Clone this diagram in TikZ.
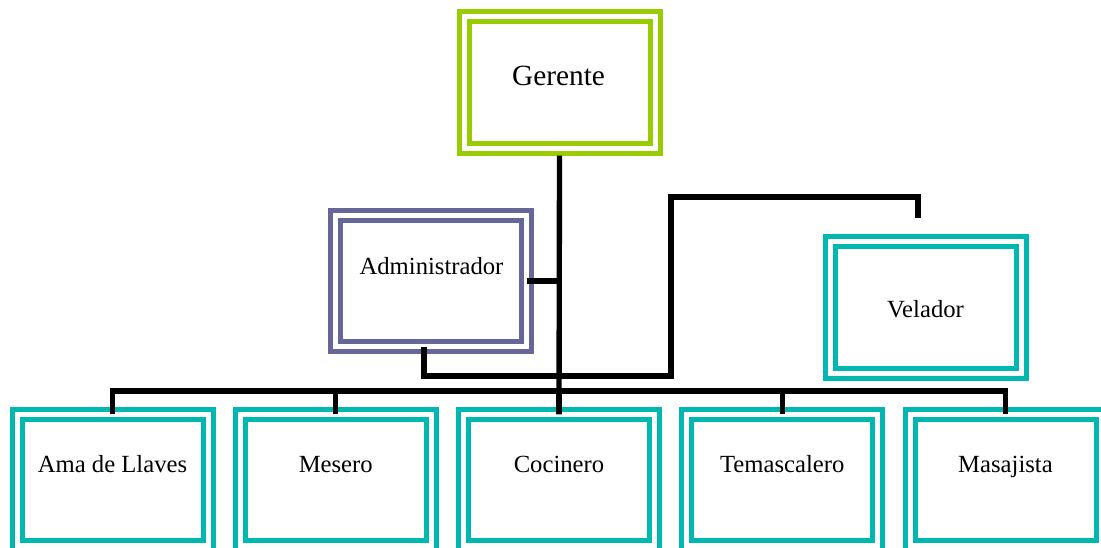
\documentclass[tikz,border=0pt]{standalone}
\usepackage{fontspec}
\setmainfont{Liberation Serif}
\usepackage{xcolor}
\usepackage{tikz}
\usetikzlibrary{positioning}
\definecolor{limegreen}{RGB}{153, 204, 0}
\definecolor{slatepurple}{RGB}{102, 102, 153}
\definecolor{tealbox}{RGB}{0, 183, 178}

\begin{document}
\begin{tikzpicture}[x=0.75pt, y=-0.75pt,
    box/.style={draw=#1, line width=3.75pt, double=white, double distance=3.75pt,
        minimum width=143.25pt, minimum height=98.6pt, inner sep=0pt, outer sep=0pt},
    lbl/.style={anchor=base, font=\fontsize{18.5}{22}\selectfont},
    link/.style={line width=4pt, line join=miter}]
    \clip (0,0) rectangle (1101,548);

    % Top of the chart
    \node[box=limegreen] (ger) at (559.5,82.5) {};
    \node[lbl, font=\fontsize{22}{26}\selectfont] (gertxt) at (558.5,86) {Gerente};

    % Second level
    \node[box=slatepurple] (adm) at (431,281) {};
    \node[lbl] (admtxt) at (431.5,275) {Administrador};

    \node[box=tealbox] (vel) at (925.5,307.5) {};
    \node[lbl] (veltxt) at (925.5,318) {Velador};

    % Staff row
    \foreach \name/\txt [count=\i] in {ama/Ama de Llaves, mes/Mesero, coc/Cocinero, tem/Temascalero, mas/Masajista} {
        \node[box=tealbox] (\name) at ({112.5+223.25*(\i-1)},480) {};
        \node[lbl] (\name txt) at ({112.5+223.25*(\i-1)},473) {\txt};
    }

    % Connectors
    \coordinate (busy) at (0,391);
    \coordinate (bend) at (671,376);
    \coordinate (velstub) at (918,218);

    \draw[link] ([yshift=-5.625pt]ger.south) -- (coc.north);
    \draw[link] (adm.east) -- (adm.east -| ger.south);
    \draw[link] ([xshift=-5.25pt]adm.south) |- (bend) |- (velstub |- 0,197) -- (velstub);

    \draw[link] (ama.north) -- (ama.north |- busy) -- (mas.north |- busy) -- (mas.north);
    \foreach \name in {mes,coc,tem}
        \draw[link] (\name.north) -- (\name.north |- busy);
\end{tikzpicture}
\end{document}
